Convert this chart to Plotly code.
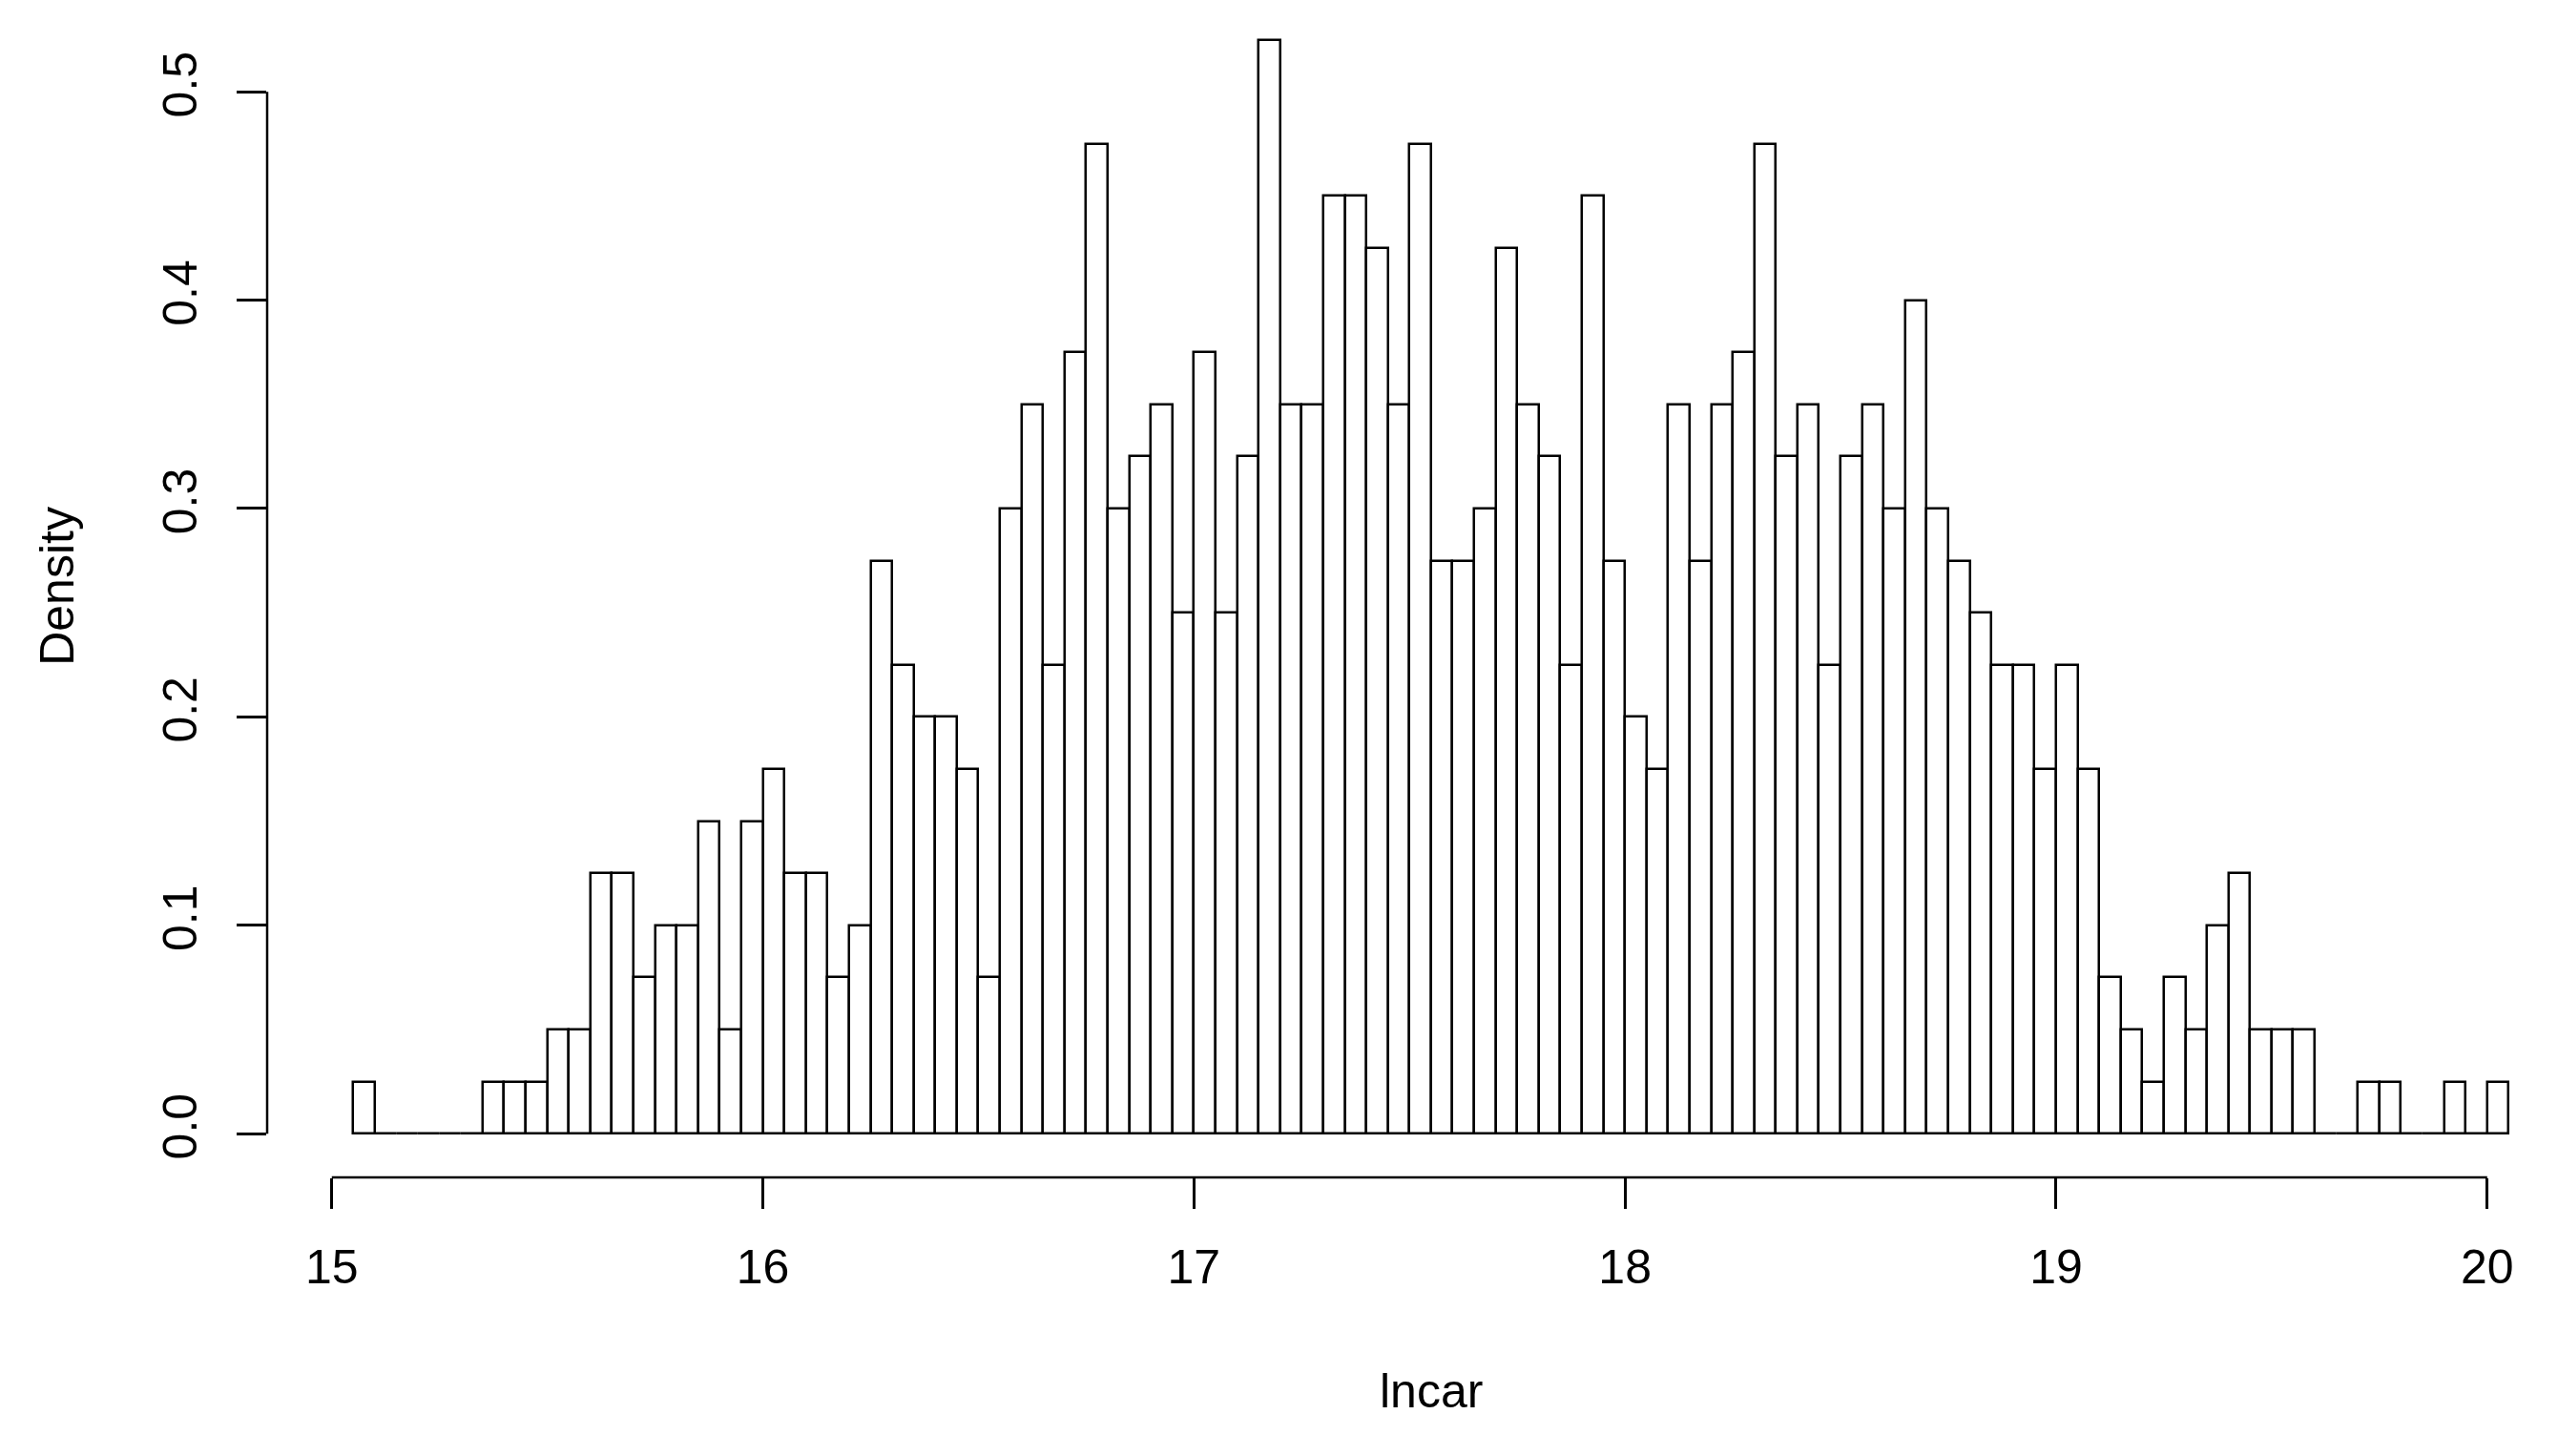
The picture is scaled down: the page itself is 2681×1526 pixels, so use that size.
import plotly.graph_objects as go

# Histogram of lncar: bin edges from 15.05 to 20.05, width 0.05
bin_start = 15.05
bin_width = 0.05
density = [
    0.025, 0, 0, 0, 0, 0, 0.025, 0.025, 0.025, 0.05,
    0.05, 0.125, 0.125, 0.075, 0.1, 0.1, 0.15, 0.05, 0.15, 0.175,
    0.125, 0.125, 0.075, 0.1, 0.275, 0.225, 0.2, 0.2, 0.175, 0.075,
    0.3, 0.35, 0.225, 0.375, 0.475, 0.3, 0.325, 0.35, 0.25, 0.375,
    0.25, 0.325, 0.525, 0.35, 0.35, 0.45, 0.45, 0.425, 0.35, 0.475,
    0.275, 0.275, 0.3, 0.425, 0.35, 0.325, 0.225, 0.45, 0.275, 0.2,
    0.175, 0.35, 0.275, 0.35, 0.375, 0.475, 0.325, 0.35, 0.225, 0.325,
    0.35, 0.3, 0.4, 0.3, 0.275, 0.25, 0.225, 0.225, 0.175, 0.225,
    0.175, 0.075, 0.05, 0.025, 0.075, 0.05, 0.1, 0.125, 0.05, 0.05,
    0.05, 0, 0, 0.025, 0.025, 0, 0, 0.025, 0, 0.025,
]
x_ticks = [15, 16, 17, 18, 19, 20]
y_ticks = [0.0, 0.1, 0.2, 0.3, 0.4, 0.5]
x_label = "lncar"
y_label = "Density"

centers = [bin_start + bin_width * (i + 0.5) for i in range(len(density))]

FONT = "Liberation Sans, Arial, sans-serif"
LW = 2.5

fig = go.Figure()
fig.add_trace(go.Bar(
    x=centers, y=density, width=bin_width,
    marker=dict(color="white", line=dict(color="black", width=LW)),
    hoverinfo="x+y",
))

x0_range = 14.85
y_lo = -0.021
PX_X = 451.8   # pixels per x unit
PX_Y = 2184.0  # pixels per y unit
ML, MB = 272, 300
fig.update_layout(
    width=2681, height=1526,
    margin=dict(l=ML, r=0, t=0, b=MB),
    paper_bgcolor="white", plot_bgcolor="white",
    showlegend=False, bargap=0,
    font=dict(family=FONT, size=50, color="black"),
    xaxis=dict(
        range=[x0_range, x0_range + (2681 - ML) / PX_X],
        showgrid=False, zeroline=False, showline=False,
        tickvals=x_ticks, ticktext=[str(v) for v in x_ticks],
        ticks="outside", ticklen=32, tickwidth=LW, tickcolor="black",
        tickfont=dict(family=FONT, size=50, color="black"),
        ticklabelstandoff=18,
    ),
    yaxis=dict(
        range=[y_lo, y_lo + (1526 - MB) / PX_Y],
        showgrid=False, zeroline=False, showline=False,
        tickvals=y_ticks, ticktext=["%.1f" % v for v in y_ticks],
        ticks="outside", ticklen=31, tickwidth=LW, tickcolor="black",
        tickangle=-90,
        tickfont=dict(family=FONT, size=50, color="black"),
        ticklabelstandoff=22,
    ),
)

# R-style axis lines spanning only the tick range
fig.add_shape(type="line", xref="x", yref="paper",
              x0=x_ticks[0], x1=x_ticks[-1], y0=0, y1=0,
              line=dict(color="black", width=LW))
fig.add_shape(type="line", xref="paper", yref="y",
              x0=0, x1=0, y0=y_ticks[0], y1=y_ticks[-1],
              line=dict(color="black", width=LW))

fig.add_annotation(text=x_label, xref="x", x=(x0_range + 20.25) / 2,
                   yref="paper", y=0, yanchor="middle", yshift=-224,
                   showarrow=False, font=dict(family=FONT, size=50, color="black"))
fig.add_annotation(text=y_label, xref="paper", x=0, xanchor="center", xshift=-220,
                   yref="y", y=(y_lo + 0.546) / 2, textangle=-90,
                   showarrow=False, font=dict(family=FONT, size=50, color="black"))

fig.write_html("out.html")
